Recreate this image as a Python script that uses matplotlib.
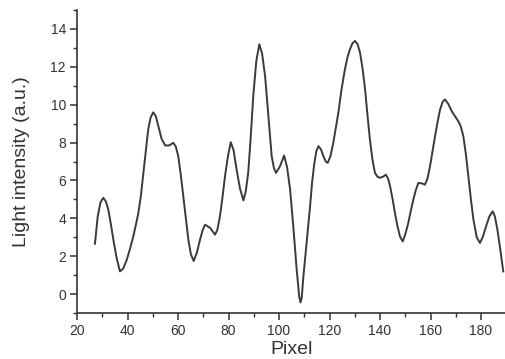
import matplotlib
matplotlib.use("Agg")
import matplotlib.pyplot as plt
from matplotlib.ticker import MultipleLocator

# values
pixel = [27.1, 28.2, 29.3, 30.4, 31.4, 32.4, 33.4, 34.4, 35.7, 37.0, 38.3, 39.7,
         41.0, 42.3, 43.3, 44.3, 45.3, 46.3, 47.3, 48.2, 49.2, 50.2, 51.2, 52.2,
         53.5, 54.9, 56.5, 58.1, 59.1, 60.1, 61.1, 62.1, 63.1, 64.1, 65.1, 66.2,
         67.5, 68.7, 69.7, 70.7, 72.7, 74.65, 75.6, 76.6, 77.6, 78.6, 79.8, 80.9,
         82.0, 83.2, 84.5, 85.9, 86.8, 87.8, 88.8, 89.8, 91.0, 92.2, 93.3, 94.5,
         95.8, 97.1, 98.0, 98.8, 100.4, 102.0, 103.2, 104.4, 105.7, 107.0, 108.0,
         108.5, 109.0, 109.6, 111.0, 112.3, 113.1, 114.0, 114.8, 115.6, 116.6,
         117.6, 118.5, 119.3, 120.4, 121.5, 122.5, 123.5, 124.8, 126.1, 127.1,
         128.1, 129.1, 130.1, 131.1, 132.1, 133.1, 134.1, 135.0, 136.0, 137.0,
         138.0, 139.0, 140.0, 141.2, 142.3, 143.2, 144.0, 145.0, 145.9, 146.9,
         147.9, 149.0, 150.1, 151.2, 152.2, 153.2, 154.2, 155.2, 156.5, 157.8,
         158.8, 159.8, 160.8, 161.8, 162.8, 163.8, 164.8, 165.7, 167.0, 168.4,
         169.7, 171.0, 172.0, 173.0, 174.0, 175.0, 176.0, 177.0, 178.3, 179.6,
         180.8, 182.0, 183.3, 184.6, 185.5, 186.5, 187.7, 188.8]
intensity = [2.66, 4.10, 4.85, 5.08, 4.90, 4.46, 3.70, 2.87, 1.90, 1.20, 1.35, 1.81,
             2.40, 3.05, 3.65, 4.29, 5.20, 6.40, 7.60, 8.70, 9.35, 9.60, 9.40, 8.87,
             8.20, 7.85, 7.85, 7.99, 7.80, 7.28, 6.30, 5.16, 4.00, 2.87, 2.10, 1.75,
             2.20, 2.87, 3.35, 3.67, 3.50, 3.14, 3.40, 4.10, 5.10, 6.22, 7.30, 8.02,
             7.60, 6.58, 5.60, 4.95, 5.40, 6.40, 8.30, 10.45, 12.30, 13.19, 12.70,
             11.50, 9.40, 7.28, 6.65, 6.40, 6.75, 7.32, 6.70, 5.52, 3.50, 1.29, -0.13,
             -0.44, -0.20, 0.85, 2.80, 4.63, 5.90, 6.93, 7.55, 7.81, 7.65, 7.28, 7.00,
             6.93, 7.30, 7.99, 8.80, 9.58, 10.85, 11.87, 12.50, 12.93, 13.25, 13.37,
             13.20, 12.75, 11.90, 10.81, 9.50, 8.16, 7.10, 6.40, 6.20, 6.14, 6.20,
             6.31, 6.10, 5.69, 5.00, 4.29, 3.60, 3.05, 2.78, 3.20, 3.76, 4.40, 4.99,
             5.50, 5.87, 5.85, 5.78, 6.10, 6.75, 7.55, 8.34, 9.10, 9.75, 10.15, 10.28,
             10.05, 9.66, 9.40, 9.13, 8.85, 8.34, 7.40, 6.22, 5.00, 3.93, 3.00, 2.70,
             3.05, 3.58, 4.10, 4.37, 4.10, 3.40, 2.30, 1.20]

plt.rcParams['font.family'] = ['Liberation Sans', 'DejaVu Sans']
txt = '#333333'

fig = plt.figure(figsize=(5.05, 3.59), dpi=100)
ax = fig.add_axes([0.1525, 0.128, 0.85, 0.844])
ax.plot(pixel, intensity, color='#3a3a3a', lw=1.4, solid_joinstyle='round')

ax.set_xlim(20, 190)
ax.set_ylim(-1, 15)
ax.xaxis.set_major_locator(MultipleLocator(20))
ax.xaxis.set_minor_locator(MultipleLocator(10))
ax.yaxis.set_major_locator(MultipleLocator(2))
ax.yaxis.set_minor_locator(MultipleLocator(1))
for s in ['top', 'right']:
    ax.spines[s].set_visible(False)
for s in ['left', 'bottom']:
    ax.spines[s].set_color('#333333')
    ax.spines[s].set_linewidth(1.2)
ax.tick_params(which='major', direction='out', length=5, width=1.1,
               labelsize=10, colors=txt, pad=3)
ax.tick_params(which='minor', direction='out', length=3, width=1.0, colors=txt)

ax.set_xlabel('Pixel', fontsize=14, color=txt, labelpad=2)
ax.set_ylabel('Light intensity (a.u.)', fontsize=14, color=txt, labelpad=15)

fig.savefig('out.png', dpi=100)
